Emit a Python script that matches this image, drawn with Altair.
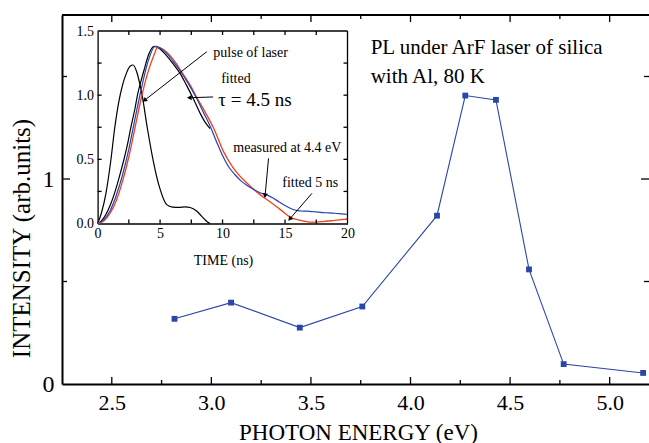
import math
import altair as alt
import pandas as pd

# ---------------- main data ----------------
energy = [2.815, 3.099, 3.444, 3.758, 4.133, 4.275, 4.429, 4.595, 4.769, 5.168]
intensity = [0.318, 0.397, 0.275, 0.378, 0.821, 1.407, 1.386, 0.559, 0.097, 0.054]

x_major = [2.5, 3.0, 3.5, 4.0, 4.5, 5.0]
x_minor = [2.75, 3.25, 3.75, 4.25, 4.75]
y_labels = [0, 1]
y_major = [1.0]
y_minor = [0.5, 1.5]

# ---------------- inset data ----------------
pulse_t = [0, 0.3, 0.65, 1.05, 1.37, 1.7, 2.0, 2.3, 2.6, 2.84, 3.1, 3.35, 3.58, 3.98, 4.46, 4.97,
           5.53, 6.0, 6.5, 7.0, 7.4, 7.9, 8.3, 8.7, 9.0]
pulse_v = [0, 0.08, 0.225, 0.485, 0.744, 0.95, 1.08, 1.17, 1.225, 1.235, 1.19, 1.1, 0.99, 0.744,
           0.485, 0.277, 0.147, 0.128, 0.125, 0.13, 0.125, 0.1, 0.06, 0.02, 0]

fit45_t = [0, 0.3, 0.66, 1.0, 1.32, 1.7, 2.07, 2.4, 2.65, 3.0, 3.19, 3.5, 3.73, 4.1, 4.53,
           5.0, 5.5, 6.0, 6.6, 7.1, 7.67, 8.2, 8.6, 9.0]
fit45_v = [0, 0.02, 0.07, 0.14, 0.225, 0.35, 0.485, 0.62, 0.744, 0.9, 1.0, 1.12, 1.2, 1.32, 1.38,
           1.36, 1.31, 1.25, 1.17, 1.08, 0.97, 0.86, 0.79, 0.74]

meas_t = [0, 0.5, 1.0, 1.5, 2.0, 2.5, 3.0, 3.5, 4.0, 4.6, 5.0, 5.5, 6.0, 6.6, 7.2, 7.9, 8.5, 9.0,
          9.55, 10.0, 10.5, 11.0, 11.5, 12.0, 12.5, 13.0, 13.5, 14.0, 14.5, 15.0,
          15.5, 16.0, 16.5, 17.0, 17.5, 18.0, 18.5, 19.0, 19.5, 20.0]
meas_v = [0, 0.03, 0.1, 0.22, 0.38, 0.58, 0.82, 1.05, 1.25, 1.38, 1.37, 1.33, 1.27, 1.19, 1.1, 0.98,
          0.86, 0.76, 0.63, 0.53, 0.44, 0.38, 0.33, 0.295, 0.265, 0.24, 0.225, 0.2, 0.17,
          0.14, 0.115, 0.1, 0.097, 0.095, 0.09, 0.085, 0.083, 0.08, 0.075, 0.07]

fit5_t = [0, 0.5, 1.0, 1.5, 2.0, 2.5, 3.0, 3.5, 4.0, 4.5, 4.8, 5.2, 5.7, 6.2, 6.8, 7.4, 7.95, 8.6,
          9.28, 10.08, 10.88, 11.95, 13.0, 13.8, 14.6, 15.4, 16.2, 17.1, 18.0, 19.0, 20.0]
fit5_v = [0, 0.02, 0.08, 0.18, 0.33, 0.52, 0.75, 0.98, 1.17, 1.31, 1.37, 1.36, 1.32, 1.26, 1.17,
          1.08, 0.98, 0.87, 0.744, 0.56, 0.43, 0.315, 0.225, 0.17, 0.11, 0.05, 0.025, 0.01, 0.015,
          0.025, 0.035]

t_labels = [0, 5, 10, 15, 20]
t_ticks = [2.5, 5, 7.5, 10, 12.5, 15, 17.5]
v_labels = [0.0, 0.5, 1.0, 1.5]
v_ticks = [0.25, 0.5, 0.75, 1.0, 1.25]

inset_texts = ["pulse of laser", "fitted", "τ = 4.5 ns", "measured at 4.4 eV", "fitted 5 ns"]
inset_text_t = [9.26, 9.89, 9.66, 10.86, 14.78]
inset_text_v = [1.327, 1.126, 0.963, 0.59, 0.318]
inset_text_size = [14, 14, 19, 14, 14]

arrow_t0 = [8.74, 9.25, 13.68, 17.16]
arrow_v0 = [1.339, 0.986, 0.508, 0.235]
arrow_t1 = [3.80, 7.40, 13.41, 15.42]
arrow_v1 = [0.963, 0.98, 0.222, 0.04]

main_text = ["PL under ArF laser of silica", "with Al, 80 K"]
main_text_x = [3.80, 3.80]
main_text_y = [1.608, 1.467]

# ---------------- layout ----------------
W, H = 587, 369
XDOM = [2.25, 5.1975]
YDOM = [0, 1.8]
IX = [35.6, 285.5]
IY = [208.5, 16]
TDOM = [0, 20]
VDOM = [0, 1.5]
FONT = "Liberation Serif, Times New Roman, Times, serif"
BLUE = "#2a46a8"

# ---------------- tables ----------------
main_df = pd.DataFrame({"E": energy, "I": intensity})
pulse_df = pd.DataFrame({"t": pulse_t, "v": pulse_v})
fit45_df = pd.DataFrame({"t": fit45_t, "v": fit45_v})
meas_df = pd.DataFrame({"t": meas_t, "v": meas_v})
fit5_df = pd.DataFrame({"t": fit5_t, "v": fit5_v})
itext_df = pd.DataFrame({"t": inset_text_t, "v": inset_text_v, "label": inset_texts,
                         "size": inset_text_size})
px_t = (IX[1] - IX[0]) / (TDOM[1] - TDOM[0])
px_v = (IY[0] - IY[1]) / (VDOM[1] - VDOM[0])
angles = []
for a, b, c, d in zip(arrow_t0, arrow_v0, arrow_t1, arrow_v1):
    dx = (c - a) * px_t
    dy = -(d - b) * px_v
    angles.append(math.degrees(math.atan2(dx, -dy)) % 360)
arrow_df = pd.DataFrame({"t0": arrow_t0, "v0": arrow_v0, "t1": arrow_t1, "v1": arrow_v1,
                         "ang": angles})
mtext_df = pd.DataFrame({"x": main_text_x, "y": main_text_y, "label": main_text})
top_frame_df = pd.DataFrame({"x0": [XDOM[0]], "x1": [XDOM[1]], "y": [YDOM[1]]})
inset_top_df = pd.DataFrame({"t0": [TDOM[0]], "t1": [TDOM[1]], "v": [VDOM[1]]})
inset_right_df = pd.DataFrame({"t": [TDOM[1]], "v0": [VDOM[0]], "v1": [VDOM[1]]})


def sx():
    return alt.Scale(domain=XDOM, nice=False, zero=False)


def sy():
    return alt.Scale(domain=YDOM, nice=False, zero=False)


def st():
    return alt.Scale(domain=TDOM, range=IX, nice=False, zero=False)


def sv():
    return alt.Scale(domain=VDOM, range=IY, nice=False, zero=False)


# ---------------- axes with labels ----------------
xa = alt.Axis(orient="bottom", values=x_major, format=".1f", ticks=False, tickSize=0,
              domain=True, domainColor="black", domainWidth=2, grid=False,
              labelFont=FONT, labelFontSize=22, labelColor="black", labelPadding=8,
              labelFlush=False, labelOverlap=False,
              title="PHOTON ENERGY (eV)", titleFont=FONT, titleFontSize=23,
              titleFontWeight="normal", titleColor="black", titleX=296, titleY=55,
              titleBaseline="alphabetic", titleAlign="center")
ya = alt.Axis(orient="left", values=y_labels, format=".0f", ticks=False, tickSize=0,
              domain=True, domainColor="black", domainWidth=2, grid=False,
              labelFont=FONT, labelFontSize=24, labelColor="black", labelPadding=8,
              labelFlush=False, labelOverlap=False,
              title="INTENSITY (arb.units)", titleFont=FONT, titleFontSize=25,
              titleFontWeight="normal", titleColor="black", titleX=-33, titleY=223,
              titleAngle=270, titleBaseline="alphabetic", titleAlign="center")
ta = alt.Axis(orient="bottom", offset=IY[0] - H, values=t_labels, format="d", ticks=False,
              tickSize=0, domain=True, domainColor="black", domainWidth=1.3, grid=False,
              labelFont=FONT, labelFontSize=14, labelColor="black", labelPadding=3,
              labelFlush=False, labelOverlap=False,
              title="TIME (ns)", titleFont=FONT, titleFontSize=14, titleFontWeight="normal",
              titleColor="black", titleX=161, titleY=41, titleBaseline="alphabetic",
              titleAlign="center")
va = alt.Axis(orient="left", offset=-IX[0], values=v_labels, format=".1f", ticks=False,
              tickSize=0, domain=True, domainColor="black", domainWidth=1.3, grid=False,
              labelFont=FONT, labelFontSize=14, labelColor="black", labelPadding=4,
              labelFlush=False, labelOverlap=False, title=None)


# ---------------- inward tick marks (rules) ----------------
def xticks(values, scale, ypix, length):
    df = pd.DataFrame({"v": values})
    return alt.Chart(df).mark_rule(color="black", strokeWidth=1.3).encode(
        x=alt.X("v:Q", scale=scale, axis=None),
        y=alt.value(ypix), y2=alt.value(ypix + length))


def yticks(values, scale, xpix, length):
    df = pd.DataFrame({"v": values})
    return alt.Chart(df).mark_rule(color="black", strokeWidth=1.3).encode(
        y=alt.Y("v:Q", scale=scale, axis=None),
        x=alt.value(xpix), x2=alt.value(xpix + length))


tick_layers = [
    xticks(x_major, sx(), H, -7), xticks(x_minor, sx(), H, -4),
    xticks(x_major, sx(), 0, 7), xticks(x_minor, sx(), 0, 4),
    yticks(y_major, sy(), 0, 8), yticks(y_minor, sy(), 0, 5),
    yticks(y_major, sy(), W, -8), yticks(y_minor, sy(), W, -5),
    xticks(t_ticks, st(), IY[0], -4), xticks(t_ticks, st(), IY[1], 4),
    yticks(v_ticks, sv(), IX[0], 4), yticks(v_ticks, sv(), IX[1], -4),
]

top_frame = alt.Chart(top_frame_df).mark_rule(color="black", strokeWidth=2).encode(
    x=alt.X("x0:Q", scale=sx(), axis=None), x2="x1:Q",
    y=alt.Y("y:Q", scale=sy(), axis=None))
inset_top = alt.Chart(inset_top_df).mark_rule(color="black", strokeWidth=1.3).encode(
    x=alt.X("t0:Q", scale=st(), axis=None), x2="t1:Q",
    y=alt.Y("v:Q", scale=sv(), axis=None))
inset_right = alt.Chart(inset_right_df).mark_rule(color="black", strokeWidth=1.3).encode(
    x=alt.X("t:Q", scale=st(), axis=None),
    y=alt.Y("v0:Q", scale=sv(), axis=None), y2="v1:Q")

# ---------------- data layers ----------------
main_line = alt.Chart(main_df).mark_line(color=BLUE, strokeWidth=1.1).encode(
    x=alt.X("E:Q", scale=sx(), axis=xa),
    y=alt.Y("I:Q", scale=sy(), axis=ya),
)
main_pts = alt.Chart(main_df).mark_square(color=BLUE, size=34, opacity=1).encode(
    x=alt.X("E:Q", scale=sx(), axis=None),
    y=alt.Y("I:Q", scale=sy(), axis=None),
)
main_txt = alt.Chart(mtext_df).mark_text(font=FONT, fontSize=21, align="left",
                                         baseline="alphabetic", color="black").encode(
    x=alt.X("x:Q", scale=sx(), axis=None),
    y=alt.Y("y:Q", scale=sy(), axis=None),
    text="label:N",
)
pulse = alt.Chart(pulse_df).mark_line(color="black", strokeWidth=1.2,
                                      interpolate="monotone").encode(
    x=alt.X("t:Q", scale=st(), axis=ta),
    y=alt.Y("v:Q", scale=sv(), axis=va),
)
fit45 = alt.Chart(fit45_df).mark_line(color="black", strokeWidth=1.2,
                                      interpolate="monotone").encode(
    x=alt.X("t:Q", scale=st(), axis=None),
    y=alt.Y("v:Q", scale=sv(), axis=None),
)
fit5 = alt.Chart(fit5_df).mark_line(color="#f2401c", strokeWidth=1.3,
                                    interpolate="monotone").encode(
    x=alt.X("t:Q", scale=st(), axis=None),
    y=alt.Y("v:Q", scale=sv(), axis=None),
)
meas = alt.Chart(meas_df).mark_line(color="#2442b4", strokeWidth=1.2,
                                    interpolate="monotone").encode(
    x=alt.X("t:Q", scale=st(), axis=None),
    y=alt.Y("v:Q", scale=sv(), axis=None),
)
itext = alt.Chart(itext_df).mark_text(font=FONT, align="left", baseline="middle",
                                      color="black").encode(
    x=alt.X("t:Q", scale=st(), axis=None),
    y=alt.Y("v:Q", scale=sv(), axis=None),
    text="label:N",
    size=alt.Size("size:Q", scale=None, legend=None),
)
shafts = alt.Chart(arrow_df).mark_rule(color="black", strokeWidth=1).encode(
    x=alt.X("t0:Q", scale=st(), axis=None),
    y=alt.Y("v0:Q", scale=sv(), axis=None),
    x2="t1:Q",
    y2="v1:Q",
)
heads = alt.Chart(arrow_df).mark_point(shape="triangle", filled=True, size=28, color="black",
                                       opacity=1).encode(
    x=alt.X("t1:Q", scale=st(), axis=None),
    y=alt.Y("v1:Q", scale=sv(), axis=None),
    angle=alt.Angle("ang:Q", scale=None),
)

chart = alt.layer(
    main_line, main_pts, main_txt, pulse, fit45, fit5, meas, itext, shafts, heads,
    top_frame, inset_top, inset_right, *tick_layers
).resolve_scale(x="independent", y="independent").resolve_axis(
    x="independent", y="independent"
).properties(
    width=W, height=H,
    autosize=alt.AutoSizeParams(type="none"),
    padding={"left": 62, "top": 15, "right": 0, "bottom": 443 - 15 - H},
    background="white",
).configure_view(stroke=None)

chart.save("out.html", embed_options={"renderer": "svg", "actions": False})
